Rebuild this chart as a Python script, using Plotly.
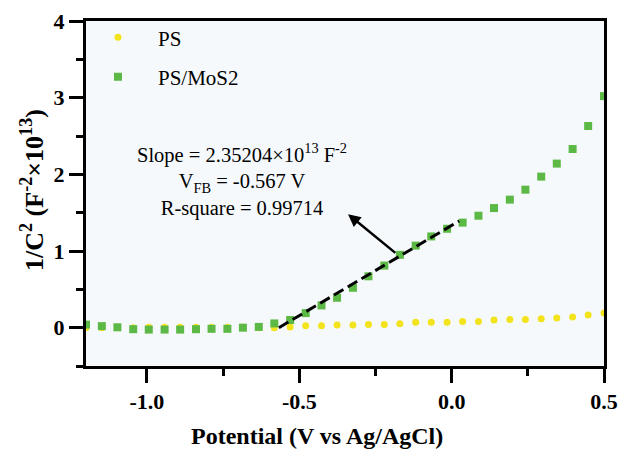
import plotly.graph_objects as go

# ---- data ----
potential = [-1.200, -1.148, -1.097, -1.045, -0.994, -0.942, -0.891, -0.839, -0.788, -0.736,
             -0.685, -0.633, -0.582, -0.530, -0.479, -0.427, -0.376, -0.324, -0.273, -0.221,
             -0.170, -0.118, -0.067, -0.015, 0.036, 0.088, 0.139, 0.191, 0.242, 0.294,
             0.345, 0.397, 0.448, 0.500]
ps = [0.0, 0.0, 0.0, 0.0, 0.005, 0.005, 0.005, 0.005, 0.005, 0.005,
      0.005, 0.0, 0.0, 0.01, 0.025, 0.025, 0.035, 0.035, 0.04, 0.04,
      0.05, 0.07, 0.07, 0.07, 0.08, 0.08, 0.10, 0.105, 0.105, 0.115,
      0.125, 0.14, 0.165, 0.19]
ps_mos2 = [0.04, 0.02, 0.005, -0.02, -0.025, -0.025, -0.025, -0.02, -0.015, -0.015,
           0.0, 0.01, 0.055, 0.10, 0.19, 0.29, 0.39, 0.52, 0.67, 0.81,
           0.95, 1.07, 1.19, 1.29, 1.37, 1.46, 1.56, 1.67, 1.80, 1.97,
           2.14, 2.33, 2.63, 3.02]
fit_slope = 2.35204
fit_vfb = -0.567
fit_x = [-0.567, 0.025]
fit_y = [fit_slope * (x - fit_vfb) for x in fit_x]

x_tick_vals = [-1.0, -0.5, 0.0, 0.5]
x_tick_text = ["-1.0", "-0.5", "0.0", "0.5"]
y_tick_vals = [0, 1, 2, 3, 4]
y_tick_text = ["0", "1", "2", "3", "4"]

SERIF = "Liberation Serif"
L, R, T, B = 86, 18, 21, 87
W, H = 622, 453
PW, PH = W - L - R, H - T - B


def px_x(px):
    return (px - L) / PW


def px_y(py):
    return 1 - (py - T) / PH


fig = go.Figure()
fig.add_trace(go.Scatter(x=potential, y=ps, mode="markers", name="PS",
                         legendgroup="a",
                         marker=dict(symbol="circle", size=7, color="#f3e31d")))
fig.add_trace(go.Scatter(x=potential, y=ps_mos2, mode="markers", name="PS/MoS2",
                         legendgroup="b",
                         marker=dict(symbol="square", size=8, color="#5cb946")))
fig.add_trace(go.Scatter(x=fit_x, y=fit_y, mode="lines", showlegend=False,
                         line=dict(color="black", width=3, dash="11px,5px")))

axis_common = dict(
    showgrid=False, zeroline=False, showline=True, linecolor="black", linewidth=3,
    mirror=True, ticks="outside", ticklen=14, tickwidth=3, tickcolor="black",
    automargin=False,
    tickfont=dict(family=SERIF, size=22, color="black", weight="bold"),
)

fig.update_xaxes(range=[-1.2, 0.5], tickmode="array", tickvals=x_tick_vals,
                 ticktext=x_tick_text,
                 minor=dict(dtick=0.25, tick0=0, ticks="outside", ticklen=7,
                            tickwidth=3, tickcolor="black"),
                 **axis_common)
fig.update_yaxes(range=[-0.5, 4], tickmode="array", tickvals=y_tick_vals,
                 ticktext=y_tick_text,
                 minor=dict(dtick=0.5, tick0=0, ticks="outside", ticklen=7,
                            tickwidth=3, tickcolor="black"),
                 **axis_common)

fig.add_annotation(
    x=px_x(242), y=px_y(180), xref="paper", yref="paper", showarrow=False,
    xanchor="center", yanchor="middle",
    text="Slope = 2.35204×10<sup>13</sup> F<sup>-2</sup><br>V<sub>FB</sub> = -0.567 V<br>R-square = 0.99714",
    font=dict(family=SERIF, size=20.5, color="black"), align="center")

fig.add_annotation(x=-0.34, y=1.48, ax=-0.18, ay=0.96, xref="x", yref="y",
                   axref="x", ayref="y", text="", showarrow=True,
                   arrowhead=2, arrowsize=1, arrowwidth=2.5, arrowcolor="black")

fig.add_annotation(x=px_x(317), y=px_y(436), xref="paper", yref="paper",
                   xanchor="center", yanchor="middle",
                   text="Potential (V vs Ag/AgCl)", showarrow=False,
                   font=dict(family=SERIF, size=24, color="black", weight="bold"))
fig.add_annotation(x=px_x(32), y=px_y(190), xref="paper", yref="paper",
                   xanchor="center", yanchor="middle",
                   text="1/C<sup>2</sup> (F<sup>-2</sup>×10<sup>13</sup>)", textangle=-90,
                   showarrow=False,
                   font=dict(family=SERIF, size=26, color="black", weight="bold"))

fig.update_layout(
    width=W, height=H,
    margin=dict(l=L, r=R, t=T, b=B),
    paper_bgcolor="white", plot_bgcolor="#f5f9fc",
    showlegend=True,
    legend=dict(x=px_x(78), y=1.011, xanchor="left", yanchor="top",
                itemwidth=70,
                bgcolor="rgba(0,0,0,0)", tracegroupgap=9,
                font=dict(family=SERIF, size=21, color="black")),
)

fig.write_html("out.html", config={"displayModeBar": False},
               post_script="document.body.style.margin='0';document.body.style.overflow='hidden';")
